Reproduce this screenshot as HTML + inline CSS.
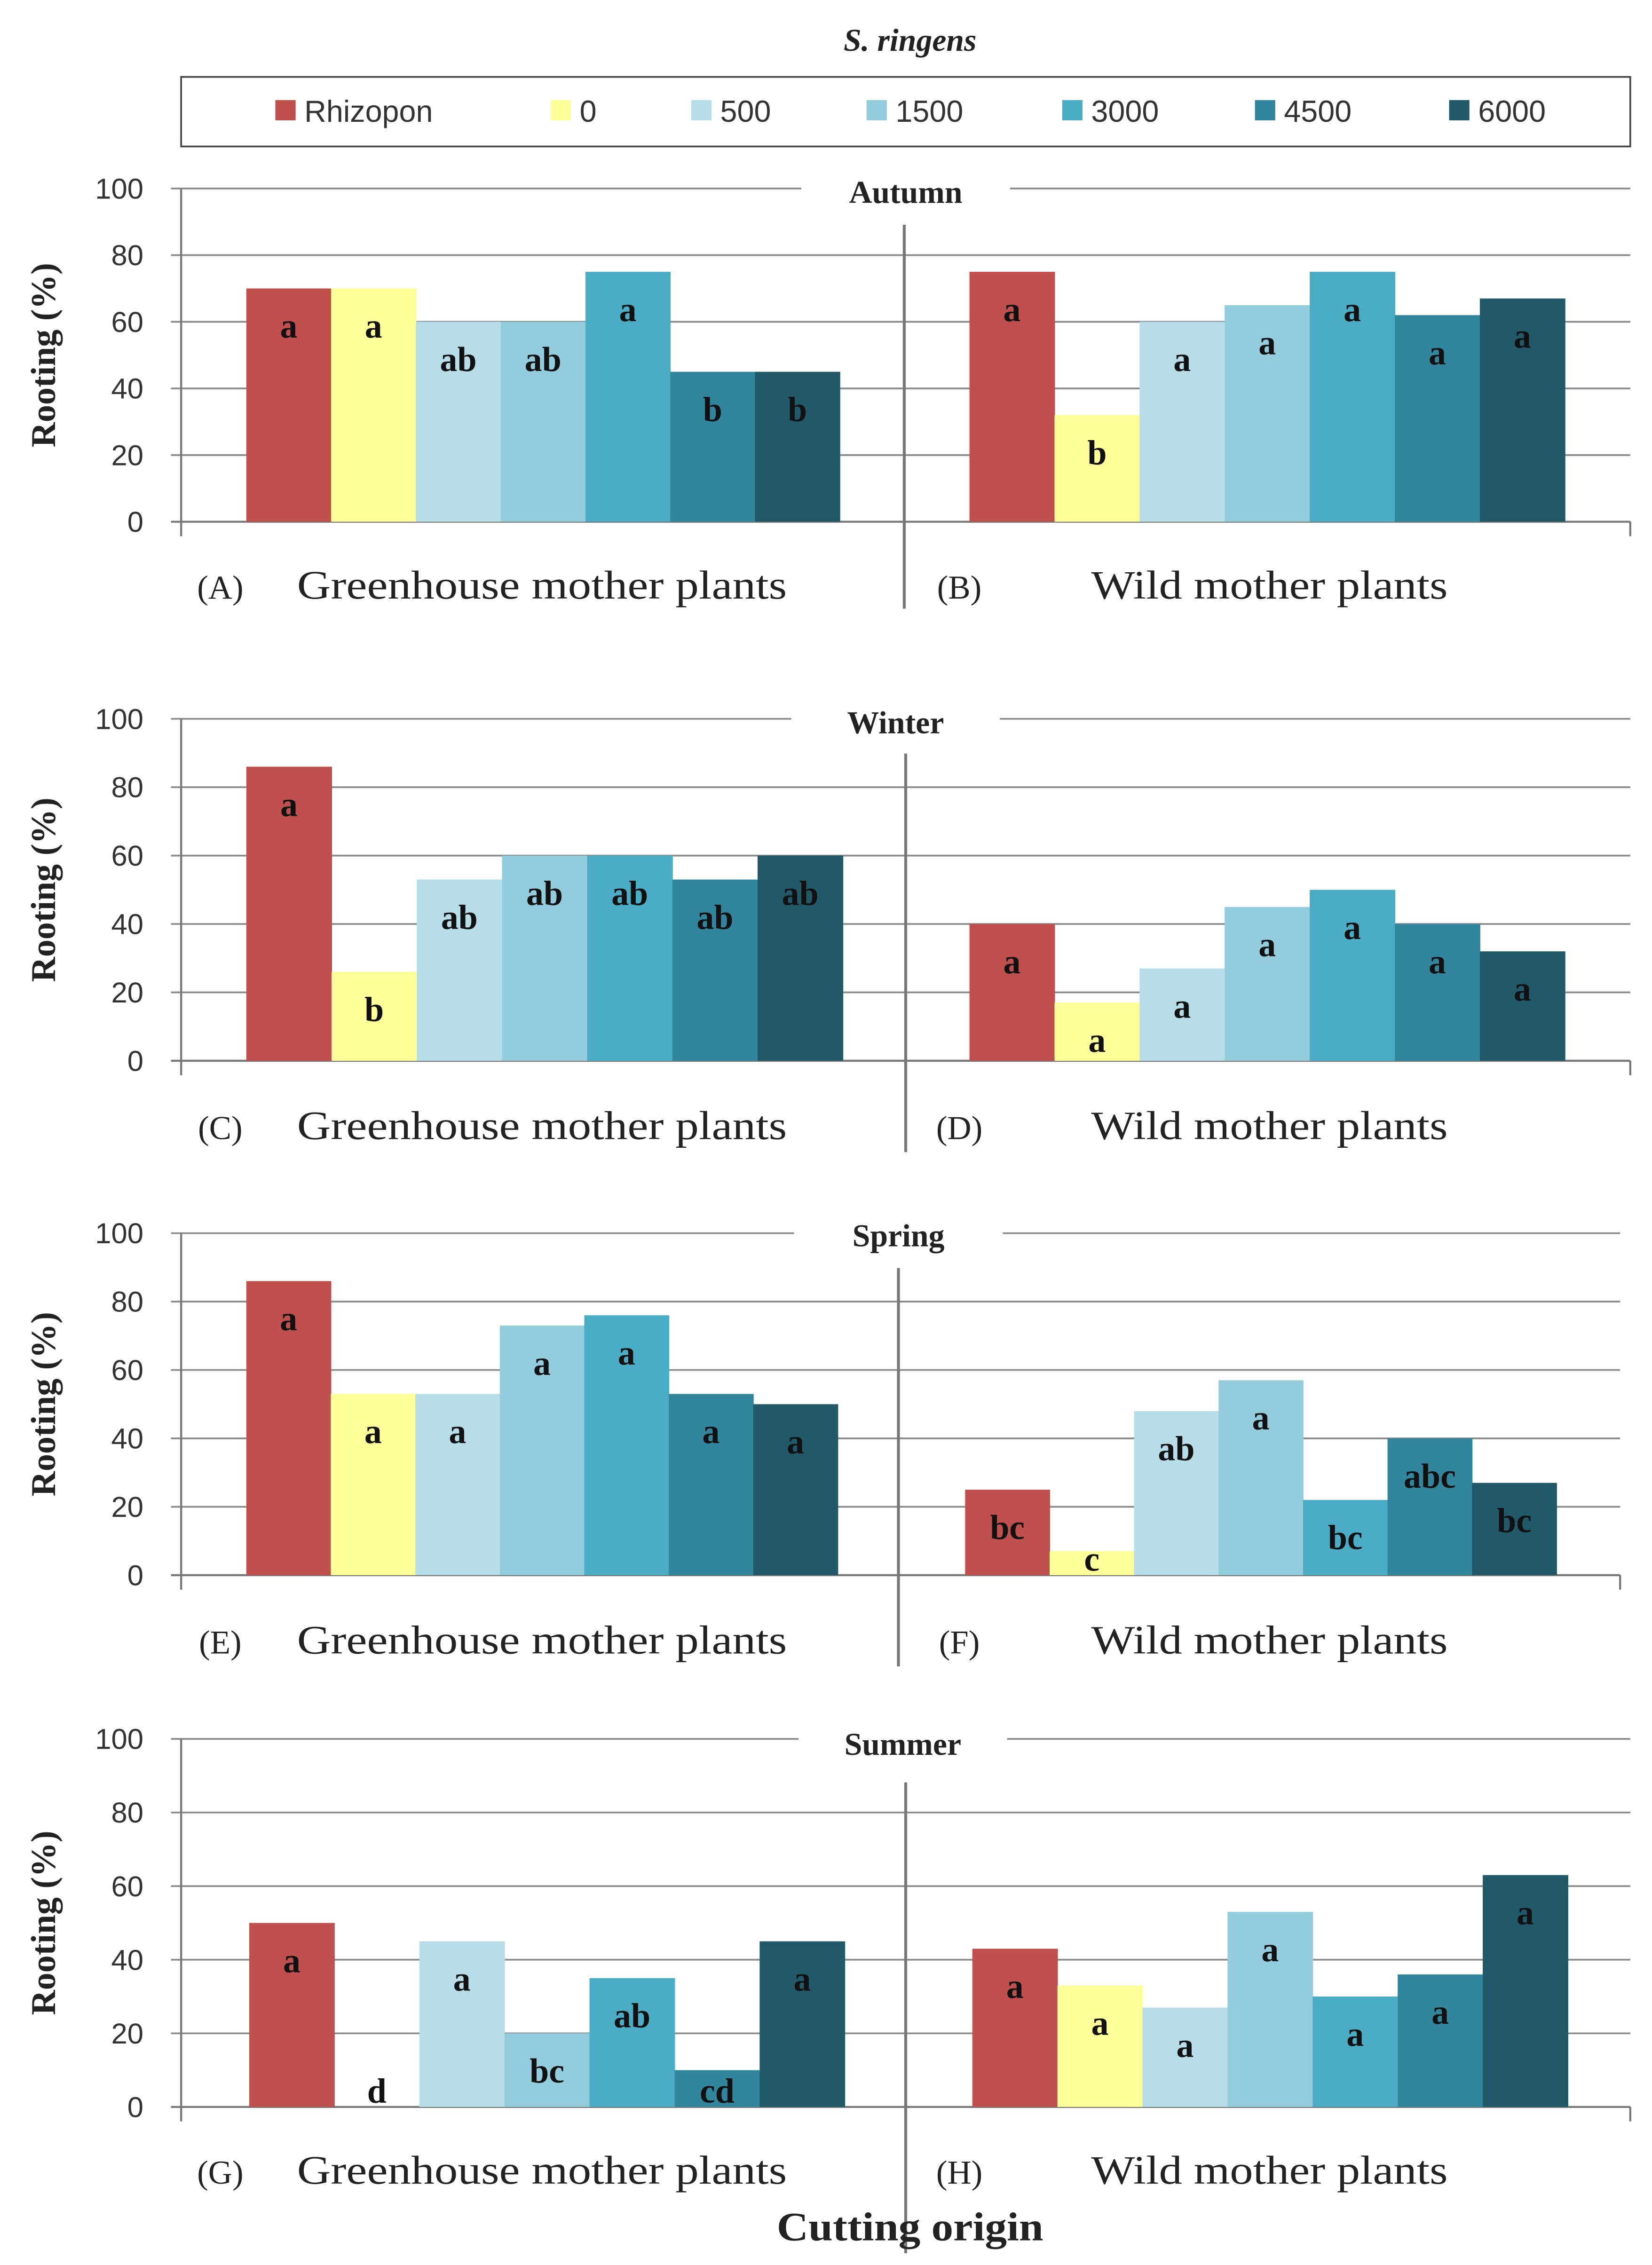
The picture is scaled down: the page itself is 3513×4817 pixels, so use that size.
<!DOCTYPE html>
<html><head><meta charset="utf-8">
<style>
html,body{margin:0;padding:0;background:#fff;}
svg{display:block;}
</style></head>
<body>
<svg id="chart" width="3513" height="4817" viewBox="0 0 1140 1563" xmlns="http://www.w3.org/2000/svg"></svg>
<script>
const treatments = ["Rhizopon","0","500","1500","3000","4500","6000"];
const colors = ["#C0504D","#FFFF99","#B7DDE8","#93CDDD","#4BACC6","#31859C","#215968"];
const seasons = ["Autumn","Winter","Spring","Summer"];
const ticks = [0,20,40,60,80,100];
const autumnGreen = [70,70,60,60,75,45,45];
const autumnGreenLetters = ["a","a","ab","ab","a","b","b"];
const autumnWild = [75,32,60,65,75,62,67];
const autumnWildLetters = ["a","b","a","a","a","a","a"];
const winterGreen = [86,26,53,60,60,53,60];
const winterGreenLetters = ["a","b","ab","ab","ab","ab","ab"];
const winterWild = [40,17,27,45,50,40,32];
const winterWildLetters = ["a","a","a","a","a","a","a"];
const springGreen = [86,53,53,73,76,53,50];
const springGreenLetters = ["a","a","a","a","a","a","a"];
const springWild = [25,7,48,57,22,40,27];
const springWildLetters = ["bc","c","ab","a","bc","abc","bc"];
const summerGreen = [50,0,45,20,35,10,45];
const summerGreenLetters = ["a","d","a","bc","ab","cd","a"];
const summerWild = [43,33,27,53,30,36,63];
const summerWildLetters = ["a","a","a","a","a","a","a"];

const svg = document.getElementById('chart');
const NS = "http://www.w3.org/2000/svg";
function mk(tag, attrs, parent, text){
  const e = document.createElementNS(NS, tag);
  for (const k in attrs) e.setAttribute(k, attrs[k]);
  if (text !== undefined) e.textContent = text;
  (parent||svg).appendChild(e);
  return e;
}
const SERIF = '"Liberation Serif", serif';
const SANS = '"Liberation Sans", sans-serif';

const t = mk('text',{x:628,y:35,'text-anchor':'middle','font-family':SERIF,'font-size':22,'font-style':'italic','font-weight':'bold',fill:'#222'},svg,'S. ringens');



const lg = mk('g',{});


mk('rect',{x:125,y:53,width:1000,height:48,fill:'#fff',stroke:'#444','stroke-width':1.2},lg);
const legX = [190,380,477,598,733,866,1000];
treatments.forEach((n,i)=>{
  const g = mk('g',{},lg);
  
  
  mk('rect',{x:legX[i],y:69,width:14,height:14,fill:colors[i]},g);
  mk('text',{x:legX[i]+20,y:84,'font-family':SANS,'font-size':21,fill:'#333'},g,n);
});

const panels = [
  {season:0, y0:360, y100:130, axisR:1125, left:[170,58.5], right:[669,58.7], div:[624,155,420], lbl:405, title:[625,140], g:autumnGreen, gl:autumnGreenLetters, w:autumnWild, wl:autumnWildLetters, codes:["(A)","(B)"]},
  {season:1, y0:732, y100:496, axisR:1125, left:[170,58.8], right:[669,58.7], div:[625,520,795], lbl:778, title:[618,506], g:winterGreen, gl:winterGreenLetters, w:winterWild, wl:winterWildLetters, codes:["(C)","(D)"]},
  {season:2, y0:1087, y100:851, axisR:1118, left:[170,58.3], right:[666,58.3], div:[620,875,1150], lbl:1133, title:[620,860], g:springGreen, gl:springGreenLetters, w:springWild, wl:springWildLetters, codes:["(E)","(F)"]},
  {season:3, y0:1454, y100:1200, axisR:1125, left:[172,58.7], right:[671,58.7], div:[625,1230,1555], lbl:1499, title:[623,1211], g:summerGreen, gl:summerGreenLetters, w:summerWild, wl:summerWildLetters, codes:["(G)","(H)"]}
];

panels.forEach(p=>{
  const name = seasons[p.season].toLowerCase();
  const pg = mk('g',{});
  
  
  const yS = v => p.y0 - (p.y0 - p.y100) * v / 100;
  ticks.forEach(v=>{
    const y = yS(v);
    if (v>0) mk('line',{x1:118,x2:p.axisR,y1:y,y2:y,stroke:'#8a8a8a','stroke-width':1.2},pg);
    else mk('line',{x1:118,x2:p.axisR,y1:y,y2:y,stroke:'#777','stroke-width':1.4},pg);
    const tl = mk('text',{x:99,y:y+7,'text-anchor':'end','font-family':SANS,'font-size':20,fill:'#333'},pg,String(v));
    
    
  });
  mk('line',{x1:125,x2:125,y1:p.y100,y2:p.y0+10,stroke:'#777','stroke-width':1.4},pg);
  mk('line',{x1:p.axisR,x2:p.axisR,y1:p.y0,y2:p.y0+10,stroke:'#777','stroke-width':1.4},pg);
  const yc = (p.y0+p.y100)/2;
  const yt = mk('text',{x:0,y:0,transform:`translate(38 ${yc}) rotate(-90)`,'text-anchor':'middle','font-family':SERIF,'font-size':24,'font-weight':'bold',fill:'#222'},pg,'Rooting (%)');
  
  
  const st = mk('text',{x:p.title[0],y:p.title[1],'text-anchor':'middle','font-family':SERIF,'font-size':22,'font-weight':'bold',fill:'#222'},null,seasons[p.season]);
  mk('rect',{x:p.title[0]-72,y:p.title[1]-22,width:144,height:30,fill:'#fff'},pg);
  pg.appendChild(st);
  
  
  [[p.g,p.gl,p.left,'greenhouse'],[p.w,p.wl,p.right,'wild']].forEach(([vals,lets,geo,grp])=>{
    vals.forEach((v,i)=>{
      const x = geo[0] + i*geo[1];
      const top = yS(v);
      const r = mk('rect',{x:x,y:top,width:geo[1]+0.3,height:p.y0-top,fill:colors[i]},pg);
      
      
      const ly = Math.min(top+34, p.y0-3);
      const lt = mk('text',{x:x+geo[1]/2,y:ly,'text-anchor':'middle','font-family':SERIF,'font-size':24,'font-weight':'bold',fill:'#111'},pg,lets[i]);
      
      
    });
  });
  mk('line',{x1:p.div[0],x2:p.div[0],y1:p.div[1],y2:p.div[2],stroke:'#777','stroke-width':2},pg);
  const L = [[152,p.codes[0],0],[374,'Greenhouse mother plants',338],[662,p.codes[1],0],[876,'Wild mother plants',246]];
  L.forEach(([x,s,w],k)=>{
    const a = {x:x,y:p.lbl+8,'text-anchor':'middle','font-family':SERIF,'font-size':k%2?28:23,fill:'#222'};
    if (w) { a.textLength = w; a.lengthAdjust = 'spacingAndGlyphs'; }
    const e = mk('text',a,pg,s);
    
    
  });
});

const xt = mk('text',{x:628,y:1546,'text-anchor':'middle','font-family':SERIF,'font-size':28,'font-weight':'bold',fill:'#222',textLength:184,lengthAdjust:'spacingAndGlyphs'},svg,'Cutting origin');


</script>
</body></html>
